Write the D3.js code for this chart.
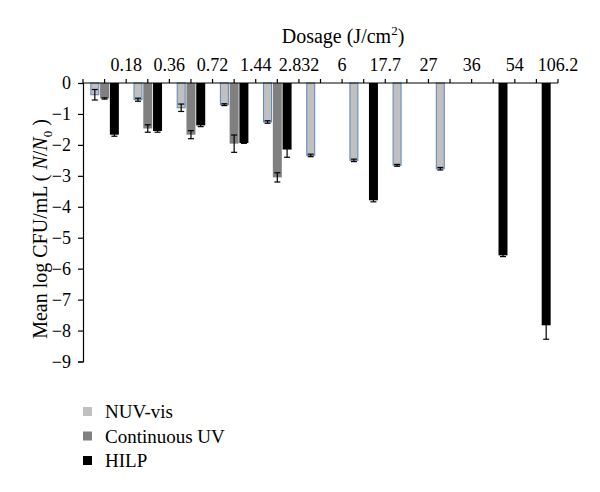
<!DOCTYPE html>
<html><head><meta charset="utf-8">
<script src="https://cdn.jsdelivr.net/npm/d3@7"></script>
<style>body{margin:0;background:#fff;} text{font-family:"Liberation Serif","DejaVu Serif",serif;}</style>
</head><body><svg id="c" width="600" height="492"></svg>
<script>
const categories = ["0.18","0.36","0.72","1.44","2.832","6","17.7","27","36","54","106.2"];
const seriesNames = ["NUV-vis","Continuous UV","HILP"];
const nuvVis   = [-0.38,-0.54,-0.80,-0.70,-1.26,-2.34,-2.50,-2.66,-2.77,null,null];
const nuvErr   = [0.17,0.05,0.12,0.03,0.04,0.04,0.04,0.03,0.04,null,null];
const contUV   = [-0.50,-1.47,-1.67,-1.96,-3.05,null,null,null,null,null,null];
const contErr  = [0.02,0.12,0.13,0.28,0.15,null,null,null,null,null,null];
const hilp     = [-1.67,-1.55,-1.37,-1.94,-2.15,null,-3.79,null,null,-5.57,-7.83];
const hilpErr  = [0.05,0.04,0.04,0.01,0.25,null,0.05,null,null,0.04,0.45];
const yTicks = [0,-1,-2,-3,-4,-5,-6,-7,-8,-9];

const fills = ["#c0c0c0","#808080","#000000"];
const strokes = ["#5f84b8","#808080","#000000"];
const values = [nuvVis, contUV, hilp];
const errs = [nuvErr, contErr, hilpErr];

const svg = d3.select("#c");
const L=83, R=558, T=83, B=361.5;
const x = d3.scaleBand().domain(categories).range([L,R]).padding(0);
const xi = d3.scaleBand().domain(seriesNames).range([0,x.bandwidth()]).paddingInner(0.08).paddingOuter(0.75);
const y = d3.scaleLinear().domain([-9,0]).range([B,T]);

// bars
const rows = [];
categories.forEach((c,i)=>seriesNames.forEach((s,j)=>{
  if(values[j][i]!=null) rows.push({c,s,j,v:values[j][i],e:errs[j][i]});
}));
svg.append("g").selectAll("rect").data(rows).join("rect")
  .attr("x",d=>x(d.c)+xi(d.s)+(d.j===0?0.5:0))
  .attr("y",y(0))
  .attr("width",d=>xi.bandwidth()-(d.j===0?1:0))
  .attr("height",d=>y(d.v)-y(0))
  .attr("fill",d=>fills[d.j])
  .attr("stroke",d=>d.j===0?strokes[0]:"none")
  .attr("stroke-width",1);

// error bars
const eg = svg.append("g").attr("stroke","#000").attr("stroke-width",1.2);
rows.forEach(d=>{
  if(d.e==null) return;
  const cx = x(d.c)+xi(d.s)+xi.bandwidth()/2;
  const y1=y(d.v+d.e), y2=y(d.v-d.e);
  eg.append("line").attr("x1",cx).attr("x2",cx).attr("y1",y1).attr("y2",y2);
  eg.append("line").attr("x1",cx-3).attr("x2",cx+3).attr("y1",y1).attr("y2",y1);
  eg.append("line").attr("x1",cx-3).attr("x2",cx+3).attr("y1",y2).attr("y2",y2);
});

// y axis
const ya = svg.append("g").attr("transform",`translate(${L},0)`)
  .call(d3.axisLeft(y).tickValues(yTicks).tickSize(5).tickPadding(7).tickFormat(d3.format("d")));
ya.select(".domain").attr("stroke","#000").attr("stroke-width",1.2);
ya.selectAll(".tick line").attr("stroke","#000").attr("stroke-width",1.2);
ya.selectAll(".tick text").attr("font-size",18).attr("font-family","Liberation Serif").attr("fill","#000");

// top axis (custom, from the band scale)
const xa = svg.append("g");
xa.append("line").attr("x1",L).attr("x2",R).attr("y1",y(0)).attr("y2",y(0)).attr("stroke","#000").attr("stroke-width",1.2);
const tickPos = [];
categories.forEach(c=>{tickPos.push(x(c)); tickPos.push(x(c)+x.bandwidth()/2);});
tickPos.push(R);
xa.selectAll("line.t").data(tickPos).join("line").attr("class","t")
  .attr("x1",d=>d).attr("x2",d=>d).attr("y1",y(0)).attr("y2",y(0)-4)
  .attr("stroke","#000").attr("stroke-width",1.2);
xa.selectAll("text").data(categories).join("text")
  .attr("x",d=>x(d)+x.bandwidth()).attr("y",71)
  .attr("text-anchor","middle").attr("font-size",18).attr("fill","#000").text(d=>d);

// x title
const xt = svg.append("text").attr("x",343).attr("y",43).attr("text-anchor","middle").attr("font-size",20).attr("fill","#000");
xt.append("tspan").text("Dosage (J/cm");
xt.append("tspan").attr("dy",-8).attr("font-size",13).text("2");
xt.append("tspan").attr("dy",8).text(")");

// y title
const yt = svg.append("text").attr("transform","translate(46.5,229) rotate(-90)").attr("text-anchor","middle").attr("font-size",20).attr("fill","#000");
yt.append("tspan").text("Mean log CFU/mL ( ");
yt.append("tspan").attr("font-style","italic").text("N");
yt.append("tspan").text("/");
yt.append("tspan").attr("font-style","italic").text("N");
yt.append("tspan").attr("dy",5).attr("font-size",13).text("0");
yt.append("tspan").attr("dy",-5).text(" )");

// legend
const lg = svg.append("g");
seriesNames.forEach((s,j)=>{
  const yy = 407 + j*24.5;
  lg.append("rect").attr("x",83).attr("y",yy).attr("width",9).attr("height",9).attr("fill",fills[j]);
  lg.append("text").attr("x",105).attr("y",yy+11).attr("font-size",19).attr("fill","#000").text(s);
});
</script></body></html>
